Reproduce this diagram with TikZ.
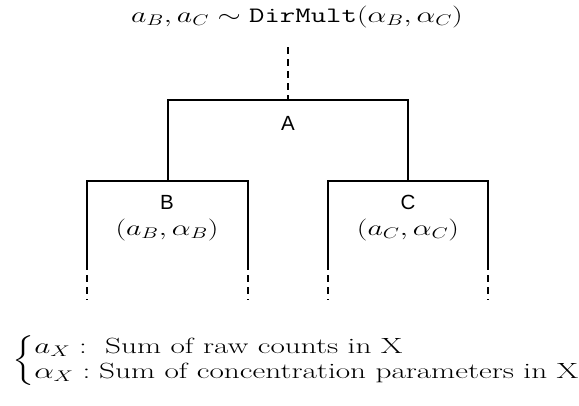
\RequirePackage{fix-cm}
\documentclass[tikz,border=0pt]{standalone}
\usepackage{amsmath}
\usepackage{graphicx}
\usepackage{fontspec}
\newfontfamily\labelfont{Liberation Sans}
\newcommand\stretchx[2][1.36]{\scalebox{#1}[1]{#2}}
\usetikzlibrary{calc}

\begin{document}
\begin{tikzpicture}[
  x=1pt,y=-1pt,
  every node/.style={font=\fontsize{22}{25}\selectfont,inner sep=0pt},
  tag/.style={font=\fontsize{20.5}{24}\selectfont\labelfont},
  branch/.style={line width=1.5pt},
  stub/.style={line width=1.5pt,dash pattern=on 7pt off 5pt}
]
\useasboundingbox (0,0) rectangle (579,405);

% ------------------------------------------------------------------
% Prior on the split
% ------------------------------------------------------------------
\node (title) at (297,17) {\stretchx{$a_B, a_C \sim \texttt{DirMult}(\alpha_B, \alpha_C)$}};

\coordinate (root) at (288,47);
\coordinate (Atop) at (288,100);
\draw[stub] (root) -- (Atop);

% ------------------------------------------------------------------
% Node A
% ------------------------------------------------------------------
\coordinate (Al) at (168,100);
\coordinate (Ar) at (408,100);
\coordinate (Bjoin) at (168,181);
\coordinate (Cjoin) at (408,181);
\draw[branch] (Bjoin) -- (Al) -- (Ar) -- (Cjoin);
\node[tag] (A) at (288,123) {A};

% ------------------------------------------------------------------
% Children B and C
% ------------------------------------------------------------------
\foreach \X/\xl/\xr in {B/87/248,C/328/488}{
  \coordinate (\X l) at (\xl,181);
  \coordinate (\X r) at (\xr,181);
  \coordinate (\X lb) at (\xl,263);
  \coordinate (\X rb) at (\xr,263);
  \coordinate (\X le) at (\xl,300);
  \coordinate (\X re) at (\xr,300);
  \draw[branch] (\X lb) -- (\X l) -- (\X r) -- (\X rb);
  \draw[stub] (\X lb) -- (\X le);
  \draw[stub] (\X rb) -- (\X re);
}
\node[tag] (B) at (167,202) {B};
\node (Bpair) at (167,230) {\stretchx{$(a_B, \alpha_B)$}};
\node[tag] (C) at (408,202) {C};
\node (Cpair) at (408,230) {\stretchx{$(a_C, \alpha_C)$}};

% ------------------------------------------------------------------
% Legend
% ------------------------------------------------------------------
\node[anchor=west] (legend) at (12,361) {\stretchx[1.42]{$\left\{\begin{array}{@{}l@{}}
  a_X :\ \text{Sum of raw counts in X}\\
  \alpha_X : \text{Sum of concentration parameters in X}
\end{array}\right.$}};

\end{tikzpicture}
\end{document}
